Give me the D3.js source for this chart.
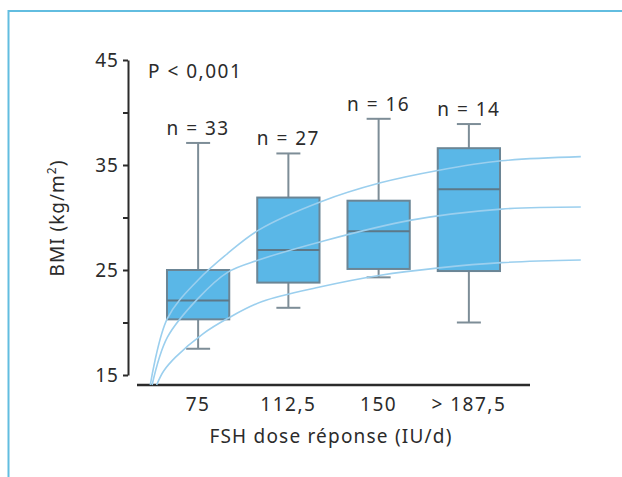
<!DOCTYPE html>
<html>
<head>
<meta charset="utf-8">
<script src="https://cdn.jsdelivr.net/npm/d3@7"></script>
<style>
  body { margin: 0; background: #fff; }
  svg text { font-family: "Noto Sans", sans-serif; fill: #2b2b2b; }
</style>
</head>
<body>
<div id="chart"></div>
<script>
// Categories and box statistics (BMI, kg/m2)
const doses = ["75", "112,5", "150", "> 187,5"];
const counts = [33, 27, 16, 14];
const whiskerLow = [17.5, 21.4, 24.3, 20.0];
const q1 = [20.3, 23.8, 25.1, 24.9];
const median = [22.1, 26.9, 28.7, 32.7];
const q3 = [25.0, 31.9, 31.6, 36.6];
const whiskerHigh = [37.1, 36.1, 39.4, 38.9];

const yTicks = [15, 20, 25, 30, 35, 40, 45];
const yLabels = [15, 25, 35, 45];

// Fitted curves, x in category units (0 = first dose)
const curveTopX = [-0.53, -0.34, 0, 0.33, 0.67, 1.36, 2.02, 2.67, 3.36, 4.24];
const curveTopY = [14.05, 20.4, 24.05, 26.6, 28.8, 31.5, 33.3, 34.5, 35.4, 35.8];
const curveMidX = [-0.51, -0.34, 0, 0.33, 0.67, 1.36, 2.36, 3.36, 4.24];
const curveMidY = [14.05, 18.6, 22.3, 24.8, 25.95, 27.7, 29.75, 30.8, 31.0];
const curveLowX = [-0.46, -0.38, -0.25, 0.05, 0.33, 0.71, 1.36, 2.02, 2.67, 3.36, 4.24];
const curveLowY = [14.05, 15.4, 16.7, 18.9, 20.4, 22.0, 23.4, 24.5, 25.2, 25.7, 25.95];

const width = 622, height = 477;
const fontSize = "19px";

const svg = d3.select("#chart").append("svg")
    .attr("width", width)
    .attr("height", height);

// Frame lines of the figure panel
svg.append("line")
    .attr("x1", 8.5).attr("x2", 8.5).attr("y1", 10).attr("y2", height)
    .attr("stroke", "#62bde0").attr("stroke-width", 2);
svg.append("line")
    .attr("x1", 8).attr("x2", width).attr("y1", 11).attr("y2", 11)
    .attr("stroke", "#62bde0").attr("stroke-width", 2);

// Scales
const y = d3.scaleLinear().domain([15, 45]).range([375, 60]);
const x = d3.scaleBand().domain(doses)
    .range([153, 514])
    .paddingInner(0.31)
    .paddingOuter(0.155);
const cx = d => x(d) + x.bandwidth() / 2;
const xc = d3.scaleLinear().domain([0, doses.length - 1])
    .range([cx(doses[0]), cx(doses[doses.length - 1])]);

// Y axis
const yAxis = svg.append("g")
    .attr("transform", "translate(128,0)")
    .call(d3.axisLeft(y)
        .tickValues(yTicks)
        .tickSize(5)
        .tickSizeOuter(0)
        .tickPadding(4)
        .tickFormat(d => yLabels.includes(d) ? d : ""));
yAxis.select(".domain").attr("stroke", "#2b2b2b").attr("stroke-width", 2);
yAxis.selectAll(".tick line").attr("stroke", "#2b2b2b").attr("stroke-width", 2);
yAxis.selectAll(".tick text")
    .style("font-family", '"Noto Sans", sans-serif')
    .style("font-size", fontSize)
    .style("letter-spacing", "1px")
    .attr("fill", "#2b2b2b");

// X axis
const xAxis = svg.append("g")
    .attr("transform", "translate(0,385)")
    .call(d3.axisBottom(x).tickSize(0).tickPadding(13));
xAxis.select(".domain").remove();
xAxis.append("line")
    .attr("x1", x.range()[0] - 16).attr("x2", x.range()[1] + 16)
    .attr("stroke", "#2b2b2b").attr("stroke-width", 2.5);
xAxis.selectAll(".tick text")
    .style("font-family", '"Noto Sans", sans-serif')
    .style("font-size", fontSize)
    .style("letter-spacing", "1.5px")
    .attr("fill", "#2b2b2b");

// Axis titles
const yTitle = svg.append("text")
    .attr("transform", "translate(64,218) rotate(-90)")
    .attr("text-anchor", "middle")
    .style("font-size", fontSize)
    .style("letter-spacing", "1px");
yTitle.append("tspan").text("BMI (kg/m");
yTitle.append("tspan").attr("baseline-shift", "super").style("font-size", "12px").text("2");
yTitle.append("tspan").text(")");

svg.append("text")
    .attr("x", 331).attr("y", 443)
    .attr("text-anchor", "middle")
    .style("font-size", fontSize)
    .style("letter-spacing", "1.2px")
    .text("FSH dose réponse (IU/d)");

svg.append("text")
    .attr("x", 148).attr("y", 78)
    .style("font-size", fontSize)
    .style("letter-spacing", "1.5px")
    .text("P < 0,001");

// Box plots
const boxes = svg.append("g").selectAll("g")
    .data(doses)
    .join("g");

const whiskerColor = "#7d8d97";
const capW = 24;

boxes.append("line")
    .attr("x1", d => cx(d)).attr("x2", d => cx(d))
    .attr("y1", (d, i) => y(whiskerHigh[i])).attr("y2", (d, i) => y(whiskerLow[i]))
    .attr("stroke", whiskerColor).attr("stroke-width", 2);
boxes.append("line")
    .attr("x1", d => cx(d) - capW / 2).attr("x2", d => cx(d) + capW / 2)
    .attr("y1", (d, i) => y(whiskerHigh[i])).attr("y2", (d, i) => y(whiskerHigh[i]))
    .attr("stroke", whiskerColor).attr("stroke-width", 2);
boxes.append("line")
    .attr("x1", d => cx(d) - capW / 2).attr("x2", d => cx(d) + capW / 2)
    .attr("y1", (d, i) => y(whiskerLow[i])).attr("y2", (d, i) => y(whiskerLow[i]))
    .attr("stroke", whiskerColor).attr("stroke-width", 2);

boxes.append("rect")
    .attr("x", d => x(d))
    .attr("width", x.bandwidth())
    .attr("y", (d, i) => y(q3[i]))
    .attr("height", (d, i) => y(q1[i]) - y(q3[i]))
    .attr("fill", "#5ab7e7")
    .attr("stroke", "#6b8595")
    .attr("stroke-width", 2);

boxes.append("line")
    .attr("x1", d => x(d)).attr("x2", d => x(d) + x.bandwidth())
    .attr("y1", (d, i) => y(median[i])).attr("y2", (d, i) => y(median[i]))
    .attr("stroke", "#5d7888").attr("stroke-width", 2);

boxes.append("text")
    .attr("x", d => cx(d))
    .attr("y", (d, i) => y(whiskerHigh[i]) - 8)
    .attr("text-anchor", "middle")
    .style("font-size", fontSize)
    .style("letter-spacing", "1.5px")
    .text((d, i) => `n = ${counts[i]}`);

// Curves, drawn over the boxes
const line = d3.line()
    .x(d => xc(d[0]))
    .y(d => y(d[1]))
    .curve(d3.curveCatmullRom.alpha(0.5));

[[curveTopX, curveTopY], [curveMidX, curveMidY], [curveLowX, curveLowY]].forEach(([xs, ys]) => {
    svg.append("path")
        .datum(xs.map((v, i) => [v, ys[i]]))
        .attr("d", line)
        .attr("fill", "none")
        .attr("stroke", "#9bcfee")
        .attr("stroke-width", 1.6);
});
</script>
</body>
</html>
